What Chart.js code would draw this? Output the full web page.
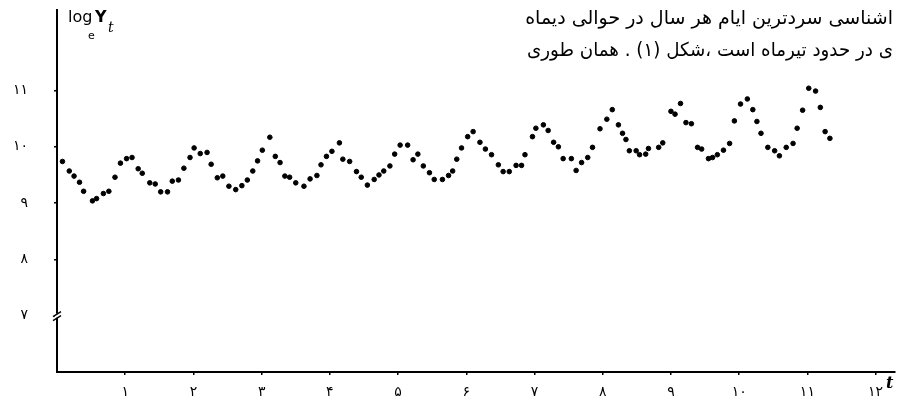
<!DOCTYPE html>
<html>
<head>
<meta charset="utf-8">
<script src="https://cdn.jsdelivr.net/npm/chart.js@4/dist/chart.umd.min.js"></script>
<style>
  html, body { margin: 0; padding: 0; background: #fff; }
  #wrap { width: 898px; height: 405px; position: relative; }
</style>
</head>
<body>
<div id="wrap"><canvas id="myChart" width="898" height="405"></canvas></div>
<script>
// time in years and log_e Y_t
const tYears = [
  0.08, 0.18, 0.25, 0.33, 0.39, 0.52, 0.58, 0.68, 0.76, 0.85, 0.93, 1.02,
  1.10, 1.19, 1.25, 1.36, 1.44, 1.52, 1.62, 1.69, 1.78, 1.86, 1.95, 2.01,
  2.10, 2.20, 2.26, 2.35, 2.43, 2.52, 2.62, 2.71, 2.79, 2.87, 2.94, 3.01,
  3.12, 3.20, 3.27, 3.34, 3.41, 3.50, 3.62, 3.71, 3.81, 3.87, 3.95, 4.03,
  4.14, 4.19, 4.29, 4.39, 4.46, 4.55, 4.65, 4.72, 4.79, 4.88, 4.95, 5.03,
  5.14, 5.22, 5.29, 5.37, 5.46, 5.53, 5.65, 5.74, 5.80, 5.86, 5.93, 6.02,
  6.10, 6.20, 6.28, 6.37, 6.47, 6.54, 6.63, 6.73, 6.81, 6.86, 6.97, 7.02,
  7.13, 7.20, 7.28, 7.35, 7.42, 7.54, 7.61, 7.69, 7.78, 7.85, 7.96, 8.06,
  8.14, 8.23, 8.29, 8.34, 8.39, 8.49, 8.54, 8.63, 8.67, 8.82, 8.88, 9.00,
  9.06, 9.14, 9.22, 9.30, 9.39, 9.45, 9.55, 9.61, 9.68, 9.77, 9.86, 9.93,
  10.02, 10.12, 10.20, 10.26, 10.32, 10.42, 10.52, 10.59, 10.69, 10.79, 10.85, 10.93,
  11.02, 11.12, 11.19, 11.26, 11.33, 11.42
];
const logY = [
  9.74, 9.57, 9.48, 9.37, 9.21, 9.04, 9.08, 9.17, 9.21, 9.46, 9.71, 9.79,
  9.81, 9.61, 9.53, 9.36, 9.34, 9.20, 9.20, 9.39, 9.41, 9.62, 9.81, 9.98,
  9.88, 9.90, 9.69, 9.45, 9.48, 9.30, 9.24, 9.31, 9.41, 9.57, 9.75, 9.94,
  10.17, 9.83, 9.72, 9.48, 9.46, 9.36, 9.30, 9.43, 9.49, 9.68, 9.83, 9.92,
  10.07, 9.78, 9.74, 9.56, 9.46, 9.32, 9.42, 9.50, 9.57, 9.66, 9.87, 10.03,
  10.03, 9.77, 9.87, 9.66, 9.54, 9.42, 9.42, 9.49, 9.57, 9.78, 9.98, 10.18,
  10.27, 10.08, 9.96, 9.86, 9.68, 9.56, 9.56, 9.67, 9.67, 9.86, 10.18, 10.33,
  10.39, 10.29, 10.08, 10.00, 9.79, 9.79, 9.58, 9.72, 9.81, 9.99, 10.32, 10.49,
  10.66, 10.39, 10.24, 10.13, 9.93, 9.93, 9.86, 9.87, 9.97, 9.99, 10.07, 10.63,
  10.58, 10.77, 10.43, 10.41, 9.99, 9.96, 9.79, 9.81, 9.86, 9.94, 10.06, 10.46,
  10.76, 10.85, 10.66, 10.45, 10.24, 9.99, 9.93, 9.84, 9.99, 10.06, 10.33, 10.65,
  11.04, 10.99, 10.70, 10.27, 10.15
];
const xTicks = [1, 2, 3, 4, 5, 6, 7, 8, 9, 10, 11, 12];
const yTicks = [7, 8, 9, 10, 11];
const textLines = [
  'اشناسی سردترین ایام هر سال در حوالی دیماه',
  'ی در حدود تیرماه است ،شکل (۱) . همان طوری'
];

const faDigits = '۰۱۲۳۴۵۶۷۸۹';
function toFa(n) {
  return String(n).replace(/\d/g, d => faDigits[d]);
}

const points = tYears.map((t, i) => ({ x: t, y: logY[i] }));

// decorations: axis titles, axis break, text block
const extras = {
  id: 'extras',
  afterDraw(chart) {
    const c = chart.ctx;
    const xs = chart.scales.x, ys = chart.scales.y;
    const x0 = xs.getPixelForValue(0);
    c.save();
    c.strokeStyle = '#000';

    // axis break at 7
    const yb = ys.getPixelForValue(7);
    c.fillStyle = '#fff';
    c.fillRect(x0 - 2, yb - 2, 4, 4);
    c.lineWidth = 1.4;
    c.beginPath();
    c.moveTo(x0 - 4, yb + 1); c.lineTo(x0 + 4, yb - 4);
    c.moveTo(x0 - 4, yb + 5); c.lineTo(x0 + 4, yb);
    c.stroke();

    // y title: log_e Y_t
    c.fillStyle = '#000';
    c.textBaseline = 'alphabetic';
    c.textAlign = 'left';
    c.font = '16px "DejaVu Sans"';
    c.fillText('log', 68, 22);
    c.font = '11px "DejaVu Sans"';
    c.fillText('e', 88, 39);
    c.font = 'bold 16px "DejaVu Sans"';
    c.fillText('Y', 95, 22);
    c.font = 'italic 14px "DejaVu Serif"';
    c.fillText('t', 108, 32);

    // x title
    c.font = 'italic bold 16px "DejaVu Serif"';
    c.fillText('t', 886, 388);

    // text block at top right
    c.direction = 'rtl';
    c.textAlign = 'right';
    c.font = '19px "DejaVu Sans"';
    c.fillText(textLines[0], 893, 24, 376);
    c.fillText(textLines[1], 893, 56, 366);
    c.restore();
  }
};

const ctx = document.getElementById('myChart').getContext('2d');
const chart = new Chart(ctx, {
  type: 'scatter',
  data: {
    datasets: [{
      label: 'log Y',
      data: points,
      backgroundColor: '#000',
      borderColor: '#000',
      pointRadius: 2.3,
      pointHoverRadius: 2.3
    }]
  },
  options: {
    responsive: false,
    animation: false,
    events: [],
    layout: { padding: { top: 10, right: 0, left: 0, bottom: 0 } },
    plugins: {
      legend: { display: false },
      tooltip: { enabled: false }
    },
    scales: {
      x: {
        type: 'linear',
        min: 0,
        max: 12.28,
        afterFit: s => { s.height = 33; s.paddingLeft = 0; s.paddingRight = 0; },
        afterBuildTicks: s => { s.ticks = xTicks.map(v => ({ value: v })); },
        ticks: {
          autoSkip: false,
          maxRotation: 0,
          padding: 9,
          color: '#000',
          font: { family: 'DejaVu Sans', size: 14 },
          callback: v => toFa(v)
        },
        grid: { drawOnChartArea: false, drawTicks: true, tickLength: 3, color: '#000', lineWidth: 1.5 },
        border: { display: true, color: '#000', width: 2 }
      },
      y: {
        type: 'linear',
        min: 6,
        max: 12.43,
        afterFit: s => { s.width = 57; s.paddingTop = 0; s.paddingBottom = 0; },
        afterBuildTicks: s => { s.ticks = yTicks.map(v => ({ value: v })); },
        ticks: {
          autoSkip: false,
          padding: 26,
          color: '#000',
          font: { family: 'DejaVu Sans', size: 14 },
          callback: v => toFa(v)
        },
        grid: { drawOnChartArea: false, drawTicks: true, tickLength: 3, color: '#000', lineWidth: 1.5 },
        border: { display: true, color: '#000', width: 2 }
      }
    }
  },
  plugins: [extras]
});
</script>
</body>
</html>
